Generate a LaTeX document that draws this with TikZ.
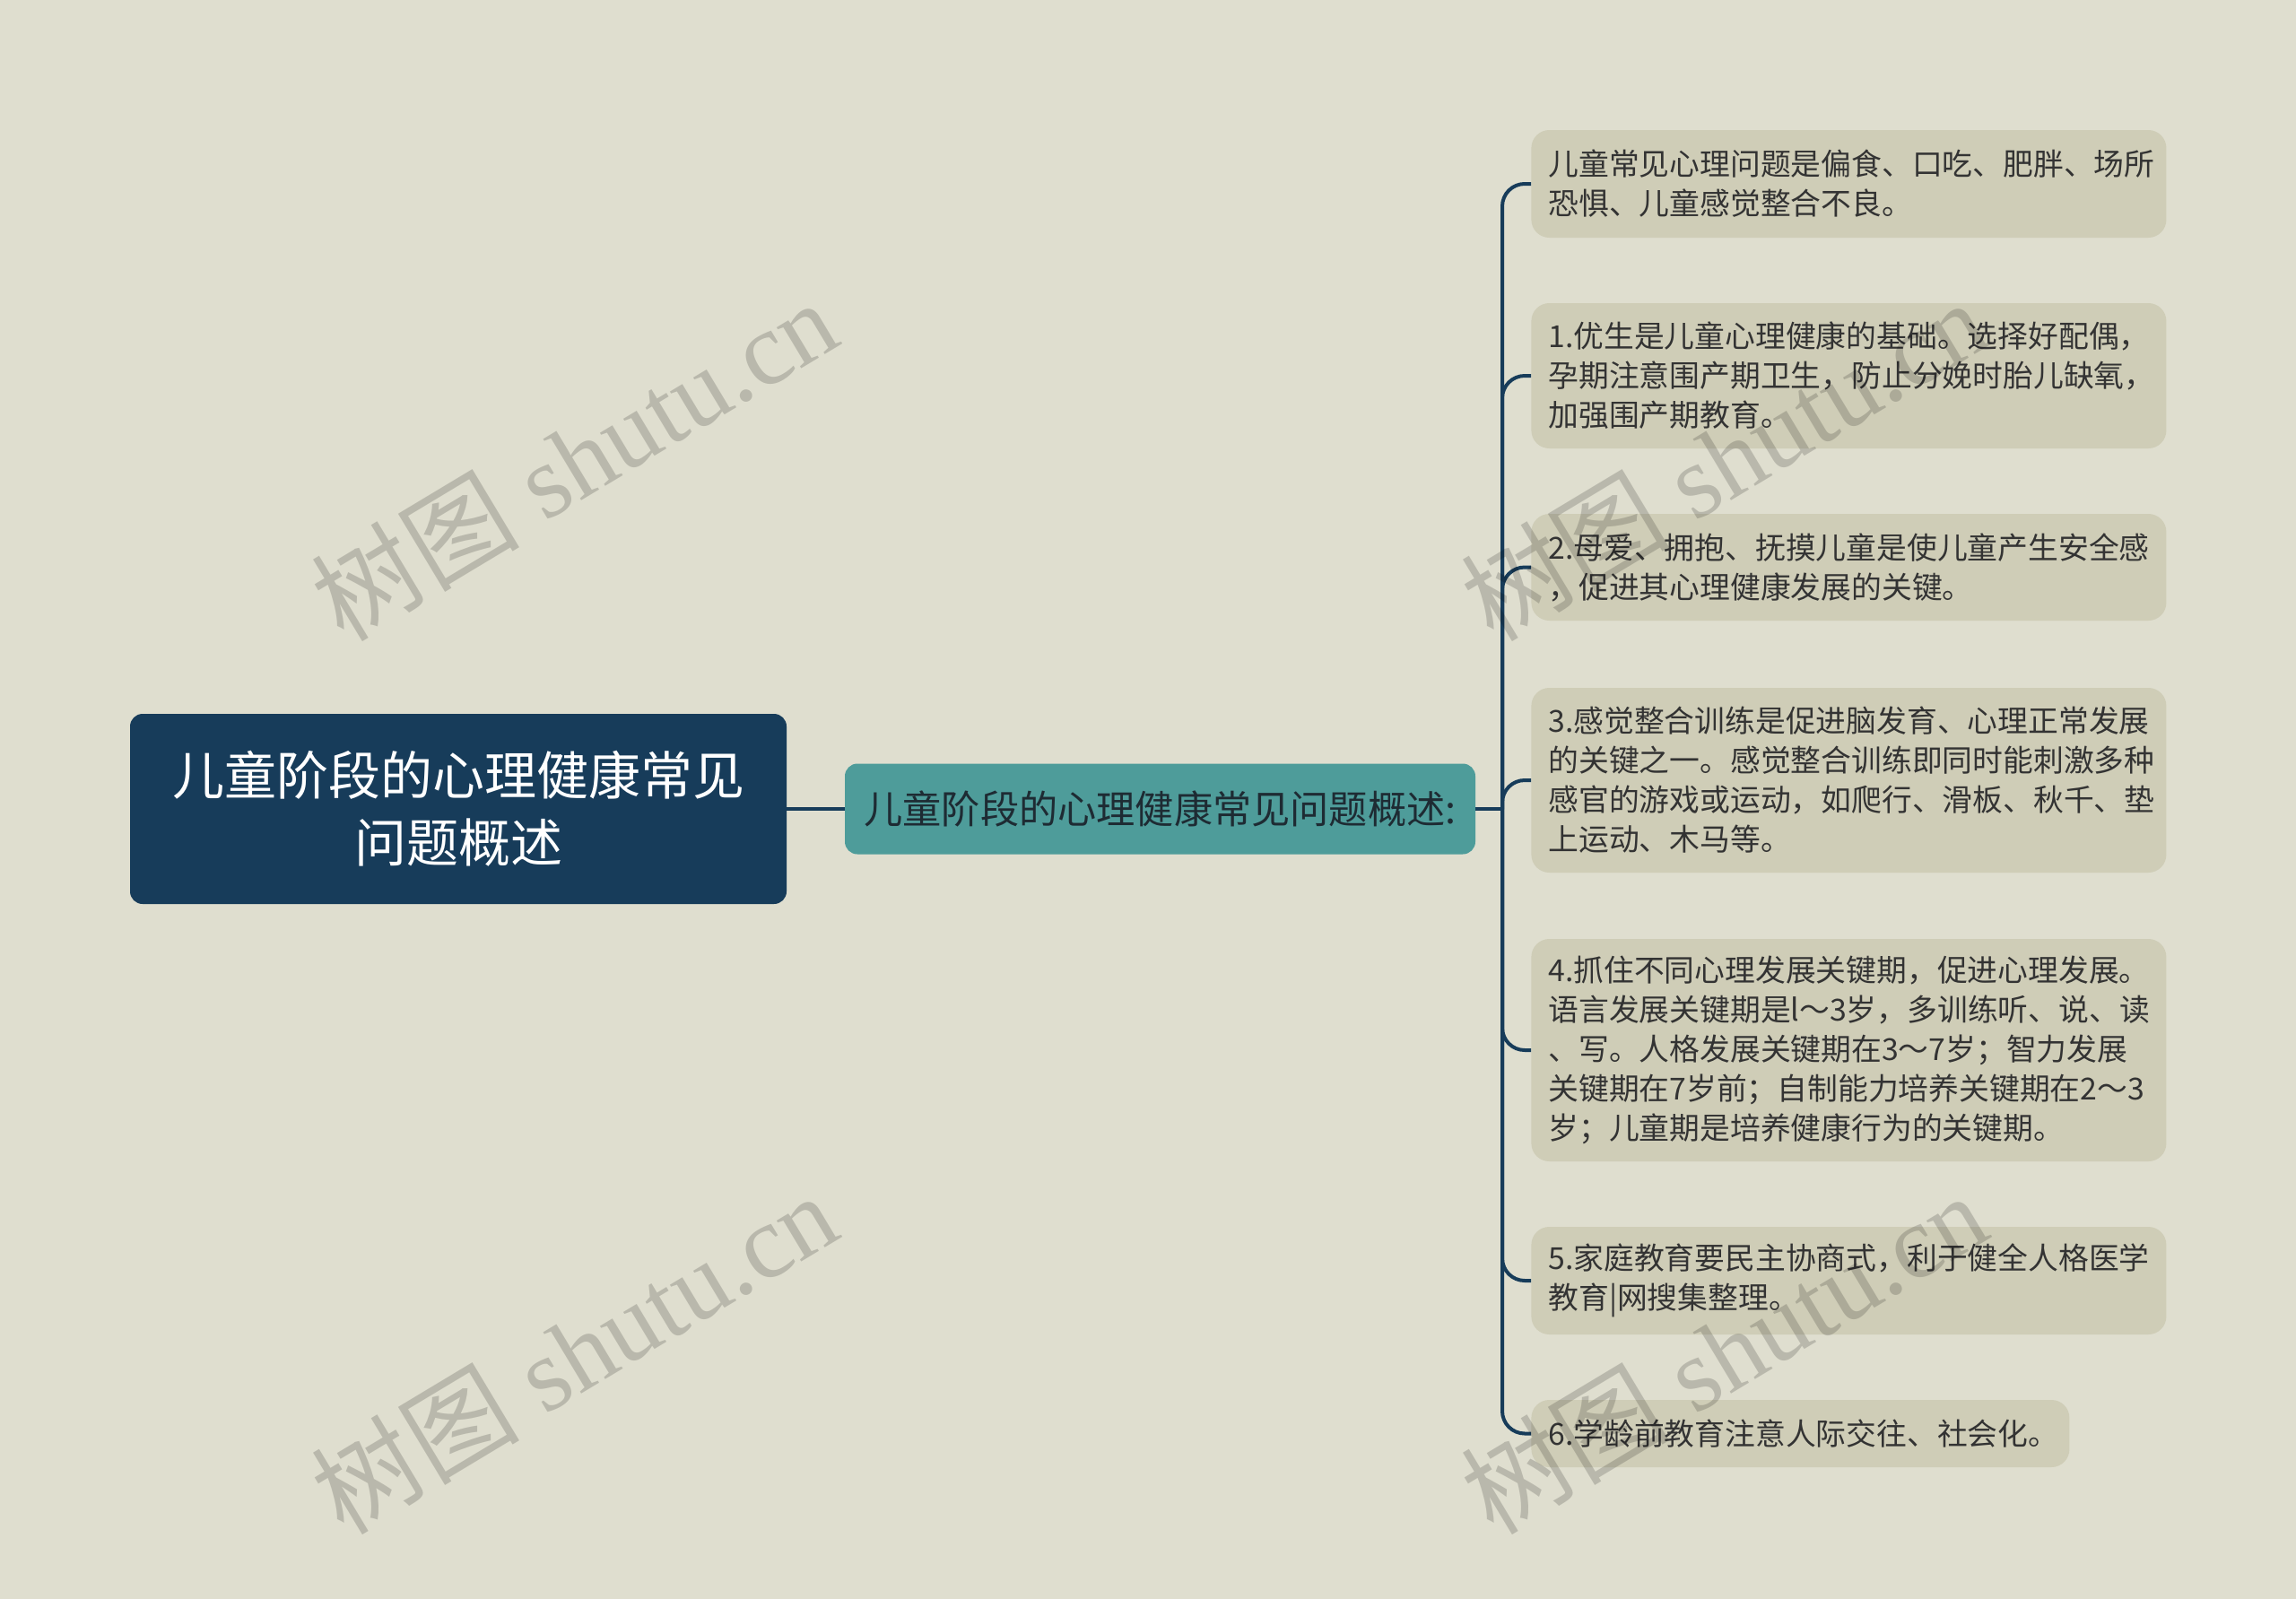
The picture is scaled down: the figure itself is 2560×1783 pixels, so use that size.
\documentclass[tikz,border=0pt]{standalone}
\usepackage{fontspec}
\setmainfont{Liberation Sans}
\newfontfamily\cjk{Noto Sans CJK SC}
\newfontfamily\wmserif{Liberation Serif}
\definecolor{bgc}{HTML}{DFDECF}
\definecolor{rootc}{HTML}{173C5A}
\definecolor{midc}{HTML}{4E9C9A}
\definecolor{leafc}{HTML}{CFCDB7}
\definecolor{leaftext}{HTML}{333333}
\definecolor{midtext}{HTML}{1E2B33}
\tikzset{
  rootbox/.style={fill=rootc, rounded corners=7pt, minimum width=366pt, minimum height=106pt,
    align=center, inner sep=0pt, text=white, font=\cjk\fontsize{29}{37.5}\selectfont},
  midbox/.style={fill=midc, rounded corners=7pt, minimum width=351.5pt, minimum height=50.5pt,
    align=center, inner sep=0pt, text=midtext, font=\cjk\fontsize{21.6}{26}\selectfont},
  leafbox/.style={fill=leafc, rounded corners=10pt, anchor=west, align=left, text width=335pt,
    inner xsep=9.5pt, inner ysep=0pt, text=leaftext, font=\cjk\fontsize{16.9}{22}\selectfont},
  conn/.style={draw=rootc, line width=2pt},
  wm/.style={rotate=31, text=black, opacity=0.17, font=\wmserif\fontsize{58}{58}\selectfont}
}
\begin{document}
\begin{tikzpicture}[x=0.5pt,y=-0.5pt]
\fill[bgc] (0,0) rectangle (2560,1783);
\useasboundingbox (0,0) rectangle (2560,1783);

\node[rootbox] (root) at (511,902) {儿童阶段的心理健康常见\\问题概述};
\node[midbox] (mid) at (1293.5,902) {儿童阶段的心理健康常见问题概述:};

\node[leafbox, minimum height=60pt] (l1) at (1707,205) {儿童常见心理问题是偏食、口吃、肥胖、场所\\恐惧、儿童感觉整合不良。};
\node[leafbox, minimum height=81pt] (l2) at (1707,419) {1.优生是儿童心理健康的基础。选择好配偶，\\孕期注意围产期卫生，防止分娩时胎儿缺氧，\\加强围产期教育。};
\node[leafbox, minimum height=59.5pt] (l3) at (1707,632.5) {2.母爱、拥抱、抚摸儿童是使儿童产生安全感\\，促进其心理健康发展的关键。};
\node[leafbox, minimum height=103pt] (l4) at (1707,870) {3.感觉整合训练是促进脑发育、心理正常发展\\的关键之一。感觉整合训练即同时能刺激多种\\感官的游戏或运动，如爬行、滑板、秋千、垫\\上运动、木马等。};
\node[leafbox, minimum height=124pt] (l5) at (1707,1171) {4.抓住不同心理发展关键期，促进心理发展。\\语言发展关键期是l～3岁，多训练听、说、读\\、写。人格发展关键期在3～7岁；智力发展\\关键期在7岁前；自制能力培养关键期在2～3\\岁；儿童期是培养健康行为的关键期。};
\node[leafbox, minimum height=60pt] (l6) at (1707,1428) {5.家庭教育要民主协商式，利于健全人格医学\\教育|网搜集整理。};
\node[leafbox, minimum height=37.5pt, text width=281pt] (l7) at (1707,1598.5) {6.学龄前教育注意人际交往、社会化。};

\coordinate (j) at (1675,902);
\draw[conn] (root.east) -- (mid.west);
\draw[conn] (mid.east) -- (j);
\foreach \l in {l1,l2,l3,l4,l5,l6,l7}
  \draw[conn, rounded corners=12.5pt] (j) |- (\l.west);

\node[wm] (w1) at (640,512) {{\cjk 树图} shutu.cn};
\node[wm] (w2) at (1922,512) {{\cjk 树图} shutu.cn};
\node[wm] (w3) at (640,1508) {{\cjk 树图} shutu.cn};
\node[wm] (w4) at (1922,1508) {{\cjk 树图} shutu.cn};
\end{tikzpicture}
\end{document}
